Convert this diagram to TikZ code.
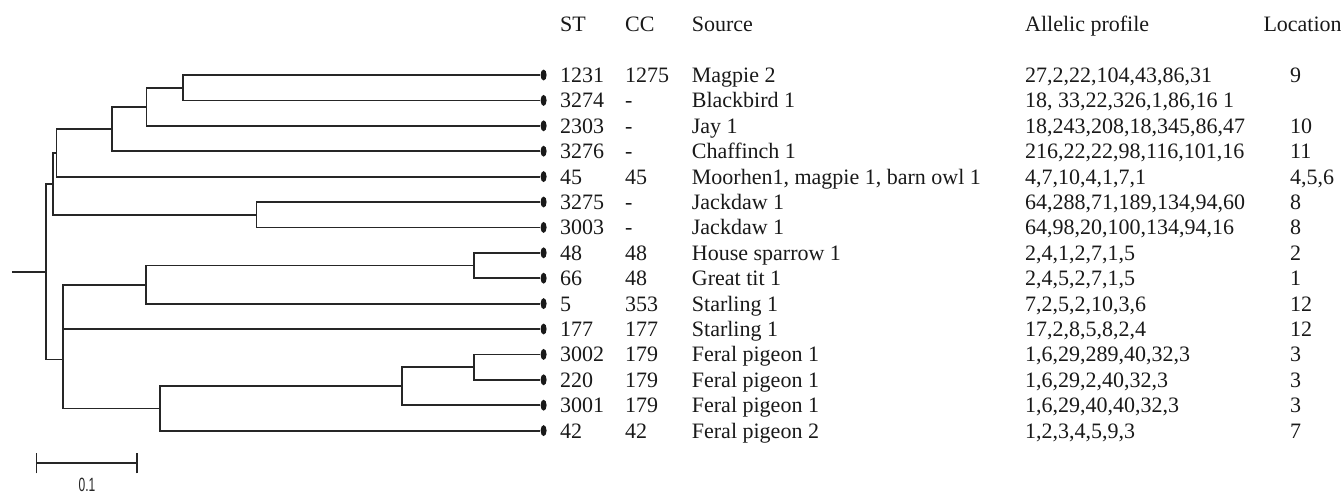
\documentclass[tikz,border=0pt]{standalone}
\usepackage{fontspec}
\usepackage{graphicx}
\setmainfont{Liberation Serif}
\newfontfamily\barfont{Liberation Sans}
\usetikzlibrary{shapes.geometric}

\begin{document}
\begin{tikzpicture}[x=1pt,y=-1pt,
  branch/.style={line width=1.8pt, draw=black!85, line join=miter},
  tip/.style={ellipse, fill=black!90, draw=none, inner sep=0pt,
              minimum width=6pt, minimum height=11pt},
  cell/.style={anchor=base west, inner sep=0pt, text=black!90,
               font=\fontsize{22}{25}\selectfont},
  hub/.style={coordinate},
]
\useasboundingbox (0,0) rectangle (1341,493);

% column headings
\node[cell] (hST)  at (560,31)    {ST};
\node[cell] (hCC)  at (625,31)    {CC};
\node[cell] (hSrc) at (691.7,31)  {Source};
\node[cell] (hAP)  at (1025,31)   {Allelic profile};
\node[cell] (hLoc) at (1263.3,31) {Location};

% leaf tips and their table rows
\foreach \i/\st/\cc/\src/\ap/\loc in {
  1/1231/1275/{Magpie 2}/{27,2,22,104,43,86,31}/9,
  2/3274/-/{Blackbird 1}/{18, 33,22,326,1,86,16 1}/{},
  3/2303/-/{Jay 1}/{18,243,208,18,345,86,47}/10,
  4/3276/-/{Chaffinch 1}/{216,22,22,98,116,101,16}/11,
  5/45/45/{Moorhen1, magpie 1, barn owl 1}/{4,7,10,4,1,7,1}/{4,5,6},
  6/3275/-/{Jackdaw 1}/{64,288,71,189,134,94,60}/8,
  7/3003/-/{Jackdaw 1}/{64,98,20,100,134,94,16}/8,
  8/48/48/{House sparrow 1}/{2,4,1,2,7,1,5}/2,
  9/66/48/{Great tit 1}/{2,4,5,2,7,1,5}/1,
  10/5/353/{Starling 1}/{7,2,5,2,10,3,6}/12,
  11/177/177/{Starling 1}/{17,2,8,5,8,2,4}/12,
  12/3002/179/{Feral pigeon 1}/{1,6,29,289,40,32,3}/3,
  13/220/179/{Feral pigeon 1}/{1,6,29,2,40,32,3}/3,
  14/3001/179/{Feral pigeon 1}/{1,6,29,40,40,32,3}/3,
  15/42/42/{Feral pigeon 2}/{1,2,3,4,5,9,3}/7}{
  \pgfmathsetmacro\yy{75+25.4*(\i-1)}
  \pgfmathsetmacro\yb{\yy+7.5}
  \node[tip]  (l\i)   at (543.6,\yy) {};
  \node[cell] (st\i)  at (560,\yb)   {\st};
  \node[cell] (cc\i)  at (625,\yb)   {\cc};
  \node[cell] (src\i) at (691.7,\yb) {\src};
  \node[cell] (ap\i)  at (1025,\yb)  {\ap};
  \node[cell] (loc\i) at (1290,\yb)  {\loc};
}

% internal nodes of the tree
\node[hub] (root) at (11.8,271.6) {};
\node[hub] (R) at (45.7,271.6) {};
\node[hub] (E) at (52.9,183.7) {};
\node[hub] (D) at (56.4,152.8) {};
\node[hub] (C) at (111.8,129) {};
\node[hub] (B) at (146.4,106.8) {};
\node[hub] (A) at (183.2,87.7) {};
\node[hub] (F) at (256.4,214.7) {};
\node[hub] (G) at (63.2,359.5) {};
\node[hub] (H) at (146.1,284.6) {};
\node[hub] (M) at (473.6,265.5) {};
\node[hub] (L) at (160,408.4) {};
\node[hub] (K) at (401.8,386.1) {};
\node[hub] (J) at (473.6,367.1) {};

% branches
\draw[branch] (root) -- (R);
\draw[branch] (R) |- (E);
\draw[branch] (R) |- (G);
\draw[branch] (E) |- (D);
\draw[branch] (E) |- (F);
\draw[branch] (D) |- (C);
\draw[branch] (D) |- (l5);
\draw[branch] (C) |- (B);
\draw[branch] (C) |- (l4);
\draw[branch] (B) |- (A);
\draw[branch] (B) |- (l3);
\draw[branch] (A) |- (l1);
\draw[branch] (A) |- (l2);
\draw[branch] (F) |- (l6);
\draw[branch] (F) |- (l7);
\draw[branch] (G) |- (H);
\draw[branch] (G) |- (l11);
\draw[branch] (G) |- (L);
\draw[branch] (H) |- (M);
\draw[branch] (H) |- (l10);
\draw[branch] (M) |- (l8);
\draw[branch] (M) |- (l9);
\draw[branch] (L) |- (K);
\draw[branch] (L) |- (l15);
\draw[branch] (K) |- (J);
\draw[branch] (K) |- (l14);
\draw[branch] (J) |- (l12);
\draw[branch] (J) |- (l13);

% scale bar
\coordinate (sbL) at (36.5,463.3);
\coordinate (sbR) at (136.8,463.3);
\draw[branch] (sbL) -- (sbR);
\draw[branch] ([yshift=-10pt]sbL) -- ([yshift=10pt]sbL);
\draw[branch] ([yshift=-10pt]sbR) -- ([yshift=10pt]sbR);
\node[anchor=north, inner sep=0pt, text=black!85] (sblabel) at (87,478)
  {\scalebox{1.0}[1.6]{\barfont\fontsize{12}{12}\selectfont 0.1}};
\end{tikzpicture}
\end{document}
